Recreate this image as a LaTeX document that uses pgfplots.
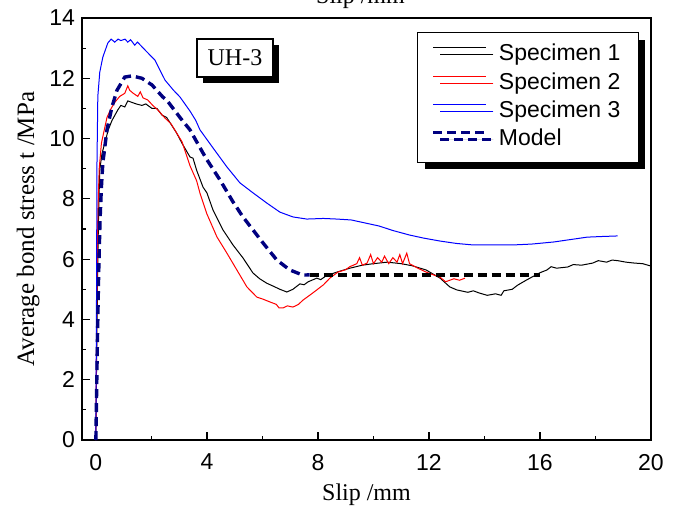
\documentclass[border=0pt]{standalone}
\usepackage{fontspec}
\setmainfont{Liberation Serif}
\newfontfamily\arial{Liberation Sans}
\usepackage{pgfplots}
\pgfplotsset{compat=1.18}
\usetikzlibrary{shadows}

\definecolor{modelblue}{RGB}{0,0,128}

\pgfplotstableread{
x y
0 0
0.03 3
0.07 6
0.1 7.6
0.14 8.96
0.22 9.5
0.32 9.85
0.45 10.3
0.58 10.6
0.79 10.95
0.9 11.1
1.04 11.05
1.15 11.25
1.3 11.2
1.45 11.15
1.66 11.1
1.8 11.15
2.02 11.0
2.2 11.0
2.38 10.78
2.55 10.7
2.9 10.2
3.1 9.85
3.39 9.39
3.5 9.35
3.63 8.95
3.86 8.39
4.0 8.2
4.22 7.63
4.58 6.97
4.94 6.47
5.3 6.04
5.66 5.54
5.9 5.35
6.16 5.2
6.4 5.1
6.63 5.0
6.88 4.91
7.1 5.0
7.35 5.18
7.5 5.15
7.65 5.25
7.96 5.37
8.1 5.32
8.3 5.45
8.68 5.57
9.15 5.7
9.6 5.8
10.0 5.85
10.5 5.9
11.0 5.85
11.4 5.78
11.9 5.64
12.4 5.37
12.75 5.08
13.0 4.98
13.4 4.9
13.6 4.95
13.8 4.88
14.1 4.8
14.4 4.85
14.6 4.8
14.7 4.95
15.0 5.0
15.2 5.14
15.5 5.3
15.7 5.4
16.0 5.55
16.25 5.64
16.4 5.75
16.6 5.7
17.0 5.74
17.2 5.82
17.5 5.8
17.9 5.87
18.1 5.95
18.4 5.9
18.6 5.97
18.8 5.95
19.1 5.9
19.4 5.87
19.7 5.85
20.0 5.77
}\spone

\pgfplotstableread{
x y
0 0
0.03 4
0.07 7.5
0.12 9.0
0.2 9.85
0.4 10.7
0.55 11.0
0.68 11.2
0.86 11.4
1.04 11.5
1.15 11.75
1.22 11.6
1.35 11.5
1.51 11.4
1.6 11.55
1.7 11.35
1.87 11.28
2.05 11.1
2.23 10.95
2.49 10.68
2.7 10.5
2.9 10.2
3.1 9.9
3.39 9.1
3.63 8.6
3.75 8.19
4.0 7.5
4.36 6.74
4.72 6.2
5.08 5.64
5.44 5.08
5.8 4.74
6.0 4.68
6.27 4.58
6.5 4.5
6.6 4.38
6.74 4.38
6.9 4.45
7.1 4.41
7.3 4.5
7.46 4.64
7.7 4.8
7.96 4.98
8.2 5.15
8.43 5.37
8.72 5.57
9.0 5.65
9.15 5.75
9.4 5.85
9.5 6.05
9.6 5.8
9.77 5.87
9.9 6.15
10.0 5.85
10.15 6.05
10.3 5.9
10.4 6.1
10.55 5.85
10.7 6.05
10.85 5.9
10.95 6.15
11.05 5.85
11.2 6.2
11.3 5.85
11.4 5.8
11.6 5.7
11.9 5.57
12.1 5.5
12.4 5.4
12.6 5.25
12.75 5.3
12.9 5.35
13.1 5.3
13.3 5.37
}\sptwo

\pgfplotstableread{
x y
0 0
0.02 4
0.04 9.19
0.07 11.4
0.14 12.2
0.25 12.7
0.43 13.17
0.55 13.3
0.68 13.2
0.8 13.3
0.9 13.25
1.05 13.3
1.15 13.2
1.25 13.28
1.4 13.1
1.5 13.2
1.77 12.94
2.13 12.6
2.49 11.94
2.8 11.6
3.03 11.38
3.4 10.9
3.6 10.6
3.75 10.29
4.22 9.69
4.72 9.06
5.19 8.53
5.66 8.2
6.16 7.86
6.63 7.56
7.1 7.4
7.6 7.33
8.2 7.35
8.68 7.33
9.2 7.3
9.7 7.2
10.2 7.1
10.7 6.95
11.3 6.8
11.8 6.7
12.4 6.6
13.0 6.52
13.6 6.47
14.3 6.47
15.0 6.47
15.7 6.5
16.5 6.57
17.1 6.65
17.7 6.73
18.2 6.75
18.8 6.77
}\spthree

\pgfplotstableread{
x y
0 0
0.05 3
0.1 5.5
0.15 7.3
0.2 8.4
0.25 9.19
0.4 10.29
0.58 11.05
0.76 11.6
1.04 12.04
1.3 12.08
1.66 12.0
2.02 11.78
2.41 11.38
2.55 11.28
3.03 10.7
3.39 10.29
3.86 9.52
4.0 9.3
4.47 8.63
4.94 7.9
5.3 7.4
5.66 6.97
6.02 6.54
6.52 5.97
6.99 5.64
7.46 5.47
7.7 5.48
}\model

\pgfplotstableread{
x y
7.7 5.48
16.0 5.48
}\plateau

\begin{document}
\begin{tikzpicture}
\begin{axis}[
    scale only axis,
    width=284.5pt, height=211pt,
    xmin=-0.5, xmax=20, ymin=0, ymax=14,
    xtick={0,4,...,20}, ytick={0,2,...,14},
    minor x tick num=1, minor y tick num=1,
    tick align=inside, xtick pos=bottom, ytick pos=left,
    major tick length=4pt, minor tick length=2.2pt,
    axis line style={line width=0.8pt},
    every tick/.style={black, line width=0.6pt},
    /pgf/number format/assume math mode=true,
    tick label style={font=\arial\fontsize{11.5}{13}\selectfont},
    xticklabel style={yshift=-3.5pt},
    xlabel style={font=\fontsize{12}{14}\selectfont},
    ylabel style={font=\fontsize{12.5}{14}\selectfont, yshift=-2pt},
    xlabel={Slip /mm},
    ylabel={Average bond stress t /MPa},
    legend style={
        at={(0.979,0.967)}, anchor=north east,
        draw=black, line width=0.6pt, fill=white,
        font=\arial\fontsize{11.5}{13}\selectfont,
        inner xsep=7pt, inner ysep=4.2pt,
        /tikz/every odd column/.append style={column sep=3.5pt},
        nodes={inner xsep=2pt, inner ysep=1.7pt, text height=8.3pt, text depth=2.4pt},
        drop shadow={shadow xshift=3.5pt, shadow yshift=-3.5pt, fill=black, opacity=1},
    },
    legend cell align=left,
    legend image code/.code={\draw[#1] (0pt,3.6pt) -- (26.5pt,3.6pt);},
]
\addplot[black, line width=0.5pt] table {\spone};
\addlegendentry{Specimen 1}
\addplot[red, line width=0.5pt] table {\sptwo};
\addlegendentry{Specimen 2}
\addplot[blue, line width=0.5pt] table {\spthree};
\addlegendentry{Specimen 3}
\addplot[modelblue, line width=1.7pt, dash pattern=on 4.5pt off 2.5pt] table {\model};
\addlegendentry{Model}
\addplot[black, line width=1.7pt, dash pattern=on 4.5pt off 2.5pt, forget plot] table {\plateau};

\node[draw=black, line width=0.6pt, fill=white, inner sep=0pt,
      minimum width=38pt, minimum height=19pt,
      font=\fontsize{12}{14}\selectfont,
      drop shadow={shadow xshift=3pt, shadow yshift=-3pt, fill=black, opacity=1}]
      at (axis cs:5.01,12.67) {UH-3};
\coordinate (sw) at (rel axis cs:0,0);
\coordinate (ne) at (rel axis cs:1,1);
\coordinate (nc) at (rel axis cs:0.5,1);
\end{axis}
\node[anchor=south, inner sep=0pt, font=\fontsize{12}{14}\selectfont] at ([xshift=-3pt,yshift=4.5pt]nc) {Slip /mm};
\pgfresetboundingbox
\path[use as bounding box] ([xshift=-41pt,yshift=-32.5pt]sw) rectangle ([xshift=14.5pt,yshift=9pt]ne);
\end{tikzpicture}
\end{document}
